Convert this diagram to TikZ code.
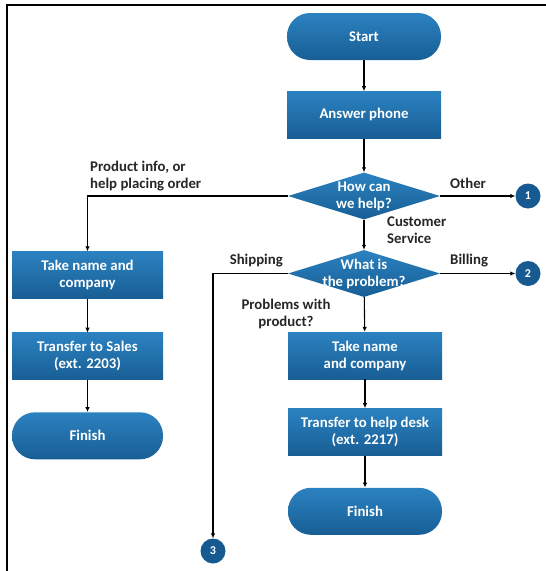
\documentclass[tikz,border=0pt]{standalone}
\usepackage{fontspec}
\setmainfont{Carlito}
\usetikzlibrary{arrows.meta,positioning,shapes.geometric}
\definecolor{boxtop}{HTML}{2B82C0}
\definecolor{boxbot}{HTML}{185E95}
\definecolor{dotblue}{HTML}{175A92}

\begin{document}
\begin{tikzpicture}[x=1pt,y=-1pt,
	flowfont/.style={font=\bfseries\fontsize{14.8}{17}\selectfont},
	terminal/.style={rectangle,rounded corners=23pt,flowfont,text=white,top color=boxtop,bottom color=boxbot,minimum width=154pt,minimum height=47pt,align=center},
	process/.style={rectangle,flowfont,text=white,top color=boxtop,bottom color=boxbot,minimum width=154pt,minimum height=47pt,align=center},
	decision/.style={diamond,top color=boxtop,bottom color=boxbot,inner sep=0pt,minimum width=152pt,minimum height=47pt},
	dectext/.style={flowfont,text=white,align=center,inner sep=0pt},
	connector/.style={circle,fill=dotblue,text=white,minimum size=25pt,inner sep=0pt,font=\bfseries\fontsize{12}{14}\selectfont},
	branch/.style={flowfont,text=black!85,inner sep=0pt},
	arr/.style={-{Latex[length=5pt,width=4.5pt]},line width=1.1pt}]
	\useasboundingbox (0,0) rectangle (546,571);
	\draw[line width=2pt] (7,571) -- (7,5) -- (546,5);

	% main column
	\node[terminal] (start) at (364,36.5) {Start};
	\node[process,below=31pt of start] (answer) {Answer phone};
	\node[decision] (help) at (364,196) {};
	\node[dectext] (helptxt) at (help) {How can\\we help?};
	\node[decision] (problem) at (364,273.5) {};
	\node[dectext] (problemtxt) at (problem) {What is\\the problem?};
	\node[process] (takeright) at (365,355.5) {Take name\\and company};
	\node[process,below=29pt of takeright] (helpdesk) {Transfer to help desk\\(ext. 2217)};
	\node[terminal,below=32pt of helpdesk] (finishright) {Finish};

	% left column
	\node[process,minimum width=151pt] (takeleft) at (87.5,275) {Take name and\\company};
	\node[process,minimum width=151pt,below=34pt of takeleft] (sales) {Transfer to Sales\\(ext. 2203)};
	\node[terminal,minimum width=151pt,below=32pt of sales] (finishleft) {Finish};

	% off-page connectors
	\node[connector] (one) at (528,196) {1};
	\node[connector] (two) at (528,273.5) {2};
	\node[connector] (three) at (213,551) {3};

	% branch labels
	\node[branch,align=left,anchor=south west] (prodinfo) at (90,191) {Product info, or\\help placing order};
	\node[branch,anchor=base west] (other) at (450,188) {Other};
	\node[branch,align=left,anchor=north west] (custserv) at (387,217) {Customer\\Service};
	\node[branch,anchor=base east] (shipping) at (283,264) {Shipping};
	\node[branch,anchor=base west] (billing) at (450,264) {Billing};
	\node[branch,align=center,anchor=north] (probprod) at (286,299) {Problems with\\product?};

	\draw[arr] (start) -- (answer);
	\draw[arr] (answer) -- (help);
	\draw[arr] (help) -- (problem);
	\draw[arr] (help.east) -- (one);
	\draw[arr] (help.west) -| (takeleft.north);
	\draw[arr] (problem.east) -- (two);
	\draw[arr] (problem.west) -| (three.north);
	\draw[arr] (problem) -- (takeright);
	\draw[arr] (takeright) -- (helpdesk);
	\draw[arr] (helpdesk) -- (finishright);
	\draw[arr] (takeleft) -- (sales);
	\draw[arr] (sales) -- (finishleft);
\end{tikzpicture}
\end{document}
